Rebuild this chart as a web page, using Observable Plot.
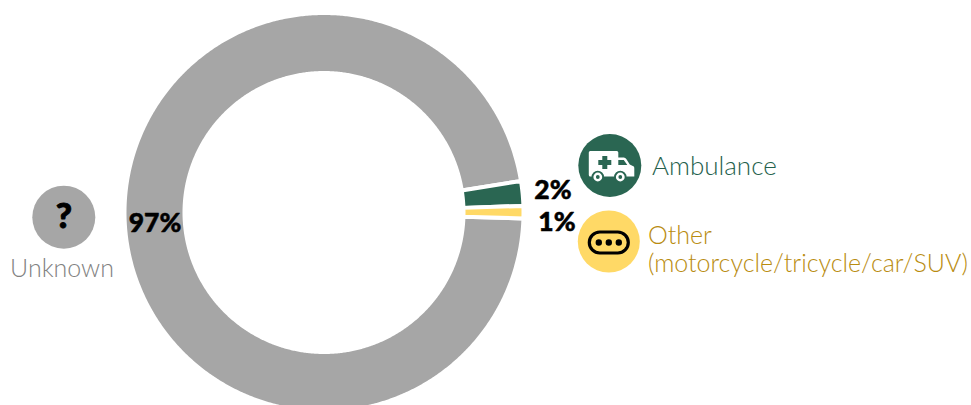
<!DOCTYPE html>
<html>
<head>
<meta charset="utf-8">
<style>
  html, body { margin: 0; padding: 0; background: #fff; }
  svg { display: block; }
</style>
<script src="https://cdn.jsdelivr.net/npm/d3@7"></script>
<script src="https://cdn.jsdelivr.net/npm/@observablehq/plot@0.6"></script>
</head>
<body>
<div id="chart"></div>
<script>
// Share of cases by transport type
const categories = ["Unknown", "Ambulance", "Other"];
const shares = [97, 2, 1];
const shareLabels = ["97%", "2%", "1%"];
const sliceColors = ["#a6a6a6", "#2a6652", "#ffd966"];

// Ring geometry, in pixels
const center = [323.5, 212];
const outerR = 199.5;
const innerR = 139.5;
const firstAngle = 91.7 * Math.PI / 180;

const slices = d3.pie().sort(null).startAngle(firstAngle).endAngle(firstAngle + 2 * Math.PI)(shares);

// One closed outline per slice, following its outer and inner arcs
const outline = slices.flatMap((s, i) => {
  const n = Math.max(8, Math.ceil((s.endAngle - s.startAngle) / 0.008));
  const at = (k) => s.startAngle + (s.endAngle - s.startAngle) * k / n;
  const pts = [];
  for (let k = 0; k <= n; k++) pts.push([outerR, at(k)]);
  for (let k = n; k >= 0; k--) pts.push([innerR, at(k)]);
  pts.push(pts[0]);
  return pts.map(([r, a]) => ({
    name: categories[i],
    x: center[0] + r * Math.sin(a),
    y: center[1] - r * Math.cos(a)
  }));
});

const ambulanceGlyph = {
  draw(ctx) {
    // Box and cab
    ctx.moveTo(-19.5, -14.5);
    ctx.lineTo(7, -14.5);
    ctx.quadraticCurveTo(8.5, -14.5, 8.5, -13);
    ctx.lineTo(8.5, -8);
    ctx.lineTo(14, -8);
    ctx.quadraticCurveTo(15.5, -8, 16.5, -6.5);
    ctx.lineTo(20, -1);
    ctx.lineTo(24, 1);
    ctx.quadraticCurveTo(24.5, 1.5, 24.5, 3);
    ctx.lineTo(24.5, 11);
    ctx.lineTo(-19.5, 11);
    ctx.quadraticCurveTo(-21, 11, -21, 9.5);
    ctx.lineTo(-21, -13);
    ctx.quadraticCurveTo(-21, -14.5, -19.5, -14.5);
    ctx.closePath();
  }
};
const ambulanceDetail = {
  draw(ctx) {
    // Medical cross
    ctx.moveTo(-7.5, -9.5); ctx.lineTo(-2.5, -9.5); ctx.lineTo(-2.5, -5.5);
    ctx.lineTo(1.5, -5.5); ctx.lineTo(1.5, -0.5); ctx.lineTo(-2.5, -0.5);
    ctx.lineTo(-2.5, 3.5); ctx.lineTo(-7.5, 3.5); ctx.lineTo(-7.5, -0.5);
    ctx.lineTo(-11.5, -0.5); ctx.lineTo(-11.5, -5.5); ctx.lineTo(-7.5, -5.5);
    ctx.closePath();
    // Windscreen
    ctx.moveTo(8.5, -5.5); ctx.lineTo(14, -5.5); ctx.lineTo(17.5, -0.5);
    ctx.lineTo(8.5, -0.5); ctx.closePath();
    // Wheel rings
    for (const cx of [-12, 10.5]) {
      ctx.moveTo(cx + 6.2, 11.5);
      ctx.arc(cx, 11.5, 6.2, 0, 2 * Math.PI);
    }
  }
};
const ambulanceWheels = {
  draw(ctx) {
    for (const cx of [-12, 10.5]) {
      ctx.moveTo(cx + 4.4, 11.5);
      ctx.arc(cx, 11.5, 4.4, 0, 2 * Math.PI);
    }
  }
};
const ambulanceHubs = {
  draw(ctx) {
    for (const cx of [-12, 10.5]) {
      ctx.moveTo(cx + 1.9, 11.5);
      ctx.arc(cx, 11.5, 1.9, 0, 2 * Math.PI);
    }
  }
};
const pillGlyph = {
  draw(ctx) {
    const w = 19.5, h = 10.5;
    ctx.moveTo(-w + h, -h);
    ctx.lineTo(w - h, -h);
    ctx.arc(w - h, 0, h, -Math.PI / 2, Math.PI / 2);
    ctx.lineTo(-w + h, h);
    ctx.arc(-w + h, 0, h, Math.PI / 2, 3 * Math.PI / 2);
    ctx.closePath();
  }
};
const dotsGlyph = {
  draw(ctx) {
    for (const cx of [-10, 0, 10]) {
      ctx.moveTo(cx + 3.2, 0);
      ctx.arc(cx, 0, 3.2, 0, 2 * Math.PI);
    }
  }
};

const badges = [
  {x: 63.3, y: 216.7, r: 31.5, fill: sliceColors[0]},
  {x: 609.3, y: 165, r: 31.5, fill: sliceColors[1]},
  {x: 608.3, y: 241, r: 31, fill: sliceColors[2]}
];
const percents = [
  {x: 154.5, y: 223, text: shareLabels[0]},
  {x: 552.5, y: 190, text: shareLabels[1]},
  {x: 556.5, y: 222.5, text: shareLabels[2]}
];
const names = [
  {x: 61.5, y: 268, text: "Unknown", fill: "#828282", anchor: "middle", size: 25},
  {x: 651.5, y: 166, text: "Ambulance", fill: "#24604c", anchor: "start", size: 26},
  {x: 647.5, y: 235, text: "Other", fill: "#b98c10", anchor: "start", size: 25},
  {x: 647.5, y: 263, text: "(motorcycle/tricycle/car/SUV)", fill: "#b98c10", anchor: "start", size: 25}
];

const glyph = (symbol, dx, dy, options) =>
  Plot.dot([[dx, dy]], {x: "0", y: "1", r: 30, symbol, ...options});

const chart = Plot.plot({
  width: 971,
  height: 405,
  margin: 0,
  x: {domain: [0, 971], range: [0, 971], axis: null},
  y: {domain: [0, 405], range: [0, 405], axis: null},
  color: {domain: categories, range: sliceColors},
  style: {background: "transparent"},
  marks: [
    Plot.line(outline, {x: "x", y: "y", z: "name", fill: "name", stroke: "white", strokeWidth: 4, curve: "linear"}),
    ...badges.map(b => Plot.dot([b], {x: "x", y: "y", r: b.r, fill: b.fill, stroke: "none"})),
    glyph(ambulanceGlyph, 609.3, 165, {fill: "white", stroke: "none"}),
    glyph(ambulanceDetail, 609.3, 165, {fill: "#2a6652", stroke: "none"}),
    glyph(ambulanceWheels, 609.3, 165, {fill: "white", stroke: "none"}),
    glyph(ambulanceHubs, 609.3, 165, {fill: "#2a6652", stroke: "none"}),
    glyph(pillGlyph, 608.3, 242, {fill: "none", stroke: "black", strokeWidth: 3.2}),
    glyph(dotsGlyph, 608.3, 242, {fill: "black", stroke: "none"}),
    Plot.text(["?"], {x: [63.3], y: [216], text: d => d, fontSize: 35, fontWeight: 900, fontFamily: "Lato", fill: "black", stroke: "black", strokeWidth: 0.9}),
    Plot.text(percents, {x: "x", y: "y", text: "text", fontSize: 26.5, fontWeight: 900, fontFamily: "Lato", fill: "black", stroke: "black", strokeWidth: 0.5}),
    ...names.map(n => Plot.text([n], {x: "x", y: "y", text: "text", fontSize: n.size, fontWeight: 300, fontFamily: "Lato", fill: n.fill, textAnchor: n.anchor}))
  ]
});
document.getElementById("chart").append(chart);
</script>
</body>
</html>
